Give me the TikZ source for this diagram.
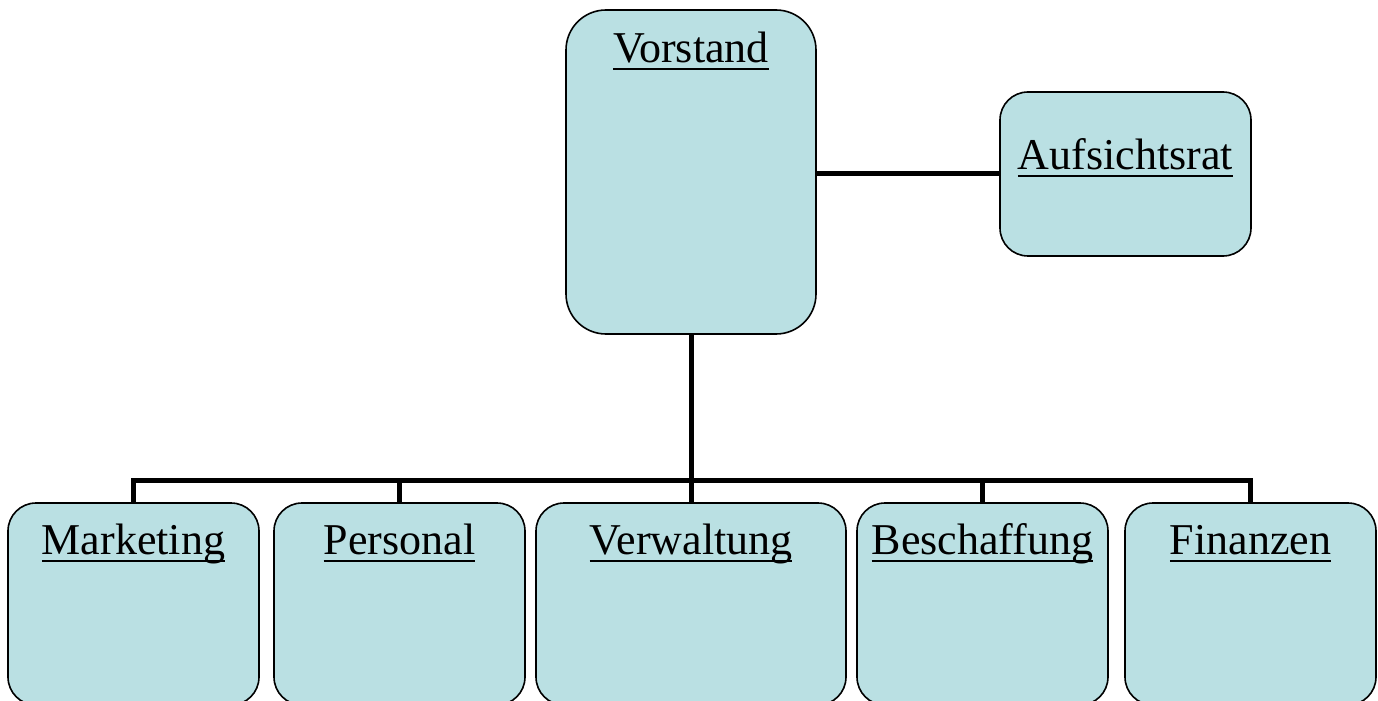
\documentclass[tikz,border=0pt]{standalone}
\usepackage{fontspec}
\setmainfont{Liberation Serif}
\definecolor{boxfill}{RGB}{186,224,227}
% underline at a fixed depth below the baseline
\newcommand{\unterstr}[1]{\setbox0\hbox{#1}\rlap{\rule[-4pt]{\wd0}{1.3pt}}\box0}
\tikzset{
  orgbox/.style={draw, line width=0.8pt, fill=boxfill, rounded corners=14pt, inner sep=0pt},
  boxtitle/.style={anchor=base, font=\fontsize{22}{26}\selectfont, inner sep=0pt},
  link/.style={line width=2.5pt},
}
\begin{document}
\begin{tikzpicture}[x=0.5pt, y=-0.5pt]
	\useasboundingbox (0,0) rectangle (1378,701);
	\clip (0,0) rectangle (1378,701);
	% top
	\node[orgbox, rounded corners=20pt, minimum width=125pt, minimum height=162pt,
		label={[boxtitle, label distance=-26.5pt]north:\unterstr{Vorstand}}] (vorstand) at (691,172) {};
	\node[orgbox, minimum width=125.5pt, minimum height=82pt,
		label={[boxtitle, label distance=-39pt]north:\unterstr{Aufsichtsrat}}] (aufsichtsrat) at (1125.5,174) {};
	% departments
	\node[orgbox, minimum width=125.5pt, minimum height=101pt,
		label={[boxtitle, label distance=-26pt]north:\unterstr{Marketing}}] (marketing) at (133.5,604) {};
	\node[orgbox, minimum width=125.5pt, minimum height=101pt,
		label={[boxtitle, label distance=-26pt]north:\unterstr{Personal}}] (personal) at (399.5,604) {};
	\node[orgbox, minimum width=155pt, minimum height=101pt,
		label={[boxtitle, label distance=-26pt]north:\unterstr{Verwaltung}}] (verwaltung) at (691,604) {};
	\node[orgbox, minimum width=125.5pt, minimum height=101pt,
		label={[boxtitle, label distance=-26pt]north:\unterstr{Beschaffung}}] (beschaffung) at (982.5,604) {};
	\node[orgbox, minimum width=125.5pt, minimum height=101pt,
		label={[boxtitle, label distance=-26pt]north:\unterstr{Finanzen}}] (finanzen) at (1250.5,604) {};
	% connectors
	\draw[link] (aufsichtsrat.west) -- (aufsichtsrat.west -| vorstand.east);
	\coordinate (knick) at ([yshift=-73pt]vorstand.south);
	\draw[link] (vorstand.south) -- (knick);
	\foreach \abt in {marketing, personal, verwaltung, beschaffung, finanzen}
		\draw[link] (knick) -| (\abt.north);
\end{tikzpicture}
\end{document}
